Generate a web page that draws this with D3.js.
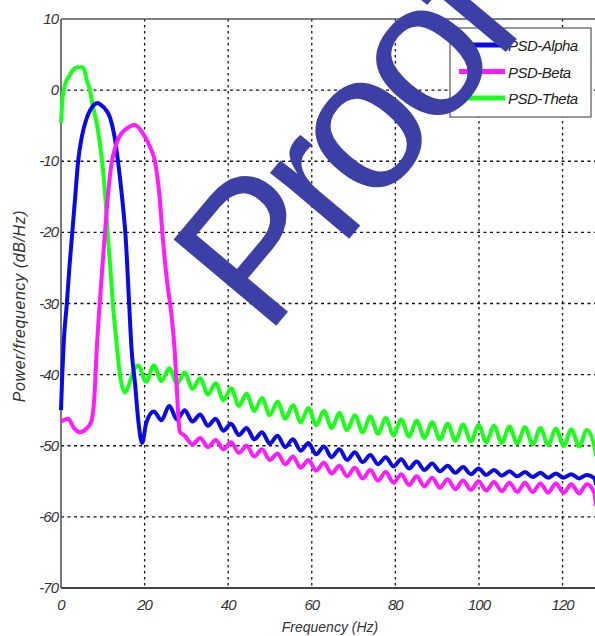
<!DOCTYPE html>
<html>
<head>
<meta charset="utf-8">
<script src="https://cdn.jsdelivr.net/npm/d3@7"></script>
<style>
  body { margin: 0; background: #fff; }
  text { font-family: "Liberation Sans", Arial, sans-serif; }
</style>
</head>
<body>
<script>
// axis ticks
var xTicks = [0, 20, 40, 60, 80, 100, 120];
var yTicks = [10, 0, -10, -20, -30, -40, -50, -60, -70];
var seriesNames = ["PSD-Alpha", "PSD-Beta", "PSD-Theta"];

// [frequency Hz, power dB/Hz]
var alphaPSD = [
  [0, -45], [0.3, -40], [0.7, -35], [1.4, -30], [2.0, -25], [2.7, -20], [3.4, -15], [4.1, -10],
  [5, -6.5], [6, -4.2], [7, -2.8], [8, -2.0], [8.8, -1.8], [9.6, -2.1], [10.5, -2.6], [11.7, -3.8],
  [12.8, -6.5], [13.7, -10.3], [14.6, -15], [15.5, -21], [16.3, -30], [16.9, -36.6], [17.7, -41.2],
  [18.5, -46.5], [19.4, -49.6], [20.4, -46.8],
  [22.2, -45.2], [24.05, -46.4], [25.9, -44.4], [27.75, -46.3], [29.6, -45.0], [31.45, -46.6],
  [33.3, -45.6], [35.15, -47.2], [37.0, -46.2], [38.85, -47.9], [40.7, -46.9], [42.55, -48.5],
  [44.4, -47.5], [46.25, -49.1], [48.1, -48.1], [49.95, -49.7], [51.8, -48.6], [53.65, -50.2],
  [55.5, -49.1], [57.35, -50.7], [59.2, -49.6], [61.05, -51.2], [62.9, -50.1], [64.75, -51.6],
  [66.6, -50.5], [68.45, -52.0], [70.3, -50.9], [72.15, -52.3], [74.0, -51.3], [75.85, -52.6],
  [77.7, -51.6], [79.55, -52.9], [81.4, -51.9], [83.25, -53.2], [85.1, -52.2], [86.95, -53.4],
  [88.8, -52.5], [90.65, -53.6], [92.5, -52.8], [94.35, -53.8], [96.2, -53.0], [98.05, -54.0],
  [99.9, -53.2], [101.75, -54.1], [103.6, -53.4], [105.45, -54.2], [107.3, -53.6], [109.15, -54.3],
  [111.0, -53.7], [112.85, -54.4], [114.7, -53.8], [116.55, -54.5], [118.4, -53.9], [120.25, -54.5],
  [122.1, -54.0], [123.95, -54.6], [125.8, -54.1], [127.65, -54.6], [128, -55.5]
];

var betaPSD = [
  [0, -46.6], [1.7, -46.2], [3.2, -47.6], [4.5, -48.1], [6.1, -47.6], [7.3, -46.5], [8.0, -43],
  [8.5, -37], [9.5, -28], [10.4, -21], [11.2, -15], [12.1, -10.3], [13, -8], [14, -6.5],
  [15.5, -5.5], [17.7, -4.9], [19.5, -6], [21.3, -8.0], [22.5, -10.1], [23.5, -14.5], [24.4, -21.1],
  [25.4, -27], [26.3, -31], [27.2, -36.6], [27.8, -43], [28.4, -48], [29.6, -48.6],
  [31.45, -49.8], [33.3, -48.9], [35.15, -50.2], [37.0, -49.2], [38.85, -50.5], [40.7, -49.5],
  [42.55, -51.0], [44.4, -50.0], [46.25, -51.5], [48.1, -50.5], [49.95, -52.0], [51.8, -51.1],
  [53.65, -52.6], [55.5, -51.5], [57.35, -53.1], [59.2, -52.0], [61.05, -53.5], [62.9, -52.4],
  [64.75, -53.9], [66.6, -52.8], [68.45, -54.3], [70.3, -53.1], [72.15, -54.6], [74.0, -53.4],
  [75.85, -54.9], [77.7, -53.7], [79.55, -55.2], [81.4, -54.0], [83.25, -55.5], [85.1, -54.3],
  [86.95, -55.7], [88.8, -54.5], [90.65, -55.9], [92.5, -54.7], [94.35, -56.1], [96.2, -54.9],
  [98.05, -56.2], [99.9, -55.0], [101.75, -56.3], [103.6, -55.1], [105.45, -56.4], [107.3, -55.2],
  [109.15, -56.5], [111.0, -55.2], [112.85, -56.5], [114.7, -55.3], [116.55, -56.6], [118.4, -55.3],
  [120.25, -56.6], [122.1, -55.4], [123.95, -56.7], [125.8, -55.4], [127.65, -56.7], [128, -58.5]
];

var thetaPSD = [
  [0, -4.6], [0.4, -1], [1, 0.8], [2, 2.0], [3, 2.9], [4, 3.2], [5, 3.2], [5.6, 2.8], [6.2, 1.3],
  [6.9, 0], [7.6, -2.2], [8.5, -4.5], [9.3, -7.5], [9.9, -10.5], [10.6, -15], [11.2, -20.5],
  [11.8, -25], [12.4, -30], [13.2, -35], [14.1, -40], [15.3, -42.5], [16.5, -41], [17.5, -39.3],
  [18.5, -38.7], [20.35, -41.0], [22.2, -38.7], [24.05, -40.9], [25.9, -39.1], [27.75, -41.3],
  [29.6, -39.7], [31.45, -42.0], [33.3, -40.5], [35.15, -42.8], [37.0, -41.2], [38.85, -43.6],
  [40.7, -41.9], [42.55, -44.4], [44.4, -42.7], [46.25, -45.1], [48.1, -43.3], [49.95, -45.7],
  [51.8, -43.8], [53.65, -46.2], [55.5, -44.3], [57.35, -46.7], [59.2, -44.7], [61.05, -47.1],
  [62.9, -45.1], [64.75, -47.5], [66.6, -45.4], [68.45, -47.8], [70.3, -45.7], [72.15, -48.1],
  [74.0, -45.9], [75.85, -48.3], [77.7, -46.1], [79.55, -48.5], [81.4, -46.3], [83.25, -48.7],
  [85.1, -46.5], [86.95, -48.9], [88.8, -46.7], [90.65, -49.1], [92.5, -46.9], [94.35, -49.3],
  [96.2, -47.0], [98.05, -49.4], [99.9, -47.1], [101.75, -49.5], [103.6, -47.2], [105.45, -49.6],
  [107.3, -47.3], [109.15, -49.7], [111.0, -47.4], [112.85, -49.8], [114.7, -47.5], [116.55, -49.9],
  [118.4, -47.6], [120.25, -50.0], [122.1, -47.7], [123.95, -50.1], [125.8, -47.8], [127.65, -50.2],
  [128, -51.5]
];

var colors = {"PSD-Alpha": "#0a0ae6", "PSD-Beta": "#ff1aff", "PSD-Theta": "#1aff1a"};

var W = 595, H = 636;
var svg = d3.select("body").append("svg")
    .attr("width", W)
    .attr("height", H);

var x = d3.scaleLinear().domain([0, 128]).range([61, 596]);
var y = d3.scaleLinear().domain([-70, 10]).range([588, 19]);

// grid
svg.append("g").selectAll("line.vg")
    .data(xTicks.filter(function(d) { return d > 0; }))
  .enter().append("line")
    .attr("x1", function(d) { return x(d); })
    .attr("x2", function(d) { return x(d); })
    .attr("y1", y(10)).attr("y2", y(-70))
    .style("stroke", "#111").style("stroke-width", 1.3)
    .style("stroke-dasharray", "2.5,3.5");

svg.append("g").selectAll("line.hg")
    .data(yTicks.filter(function(d) { return d > -70 && d < 10; }))
  .enter().append("line")
    .attr("x1", x(0)).attr("x2", x(128))
    .attr("y1", function(d) { return y(d); })
    .attr("y2", function(d) { return y(d); })
    .style("stroke", "#111").style("stroke-width", 1.3)
    .style("stroke-dasharray", "3,3.5");

// box
svg.append("line").attr("x1", x(0)).attr("x2", x(128)).attr("y1", y(10)).attr("y2", y(10))
    .style("stroke", "#555").style("stroke-width", 1.5);
svg.append("line").attr("x1", x(0)).attr("x2", x(128)).attr("y1", y(-70)).attr("y2", y(-70))
    .style("stroke", "#444").style("stroke-width", 2);
svg.append("line").attr("x1", x(0)).attr("x2", x(0)).attr("y1", y(10)).attr("y2", y(-70))
    .style("stroke", "#555").style("stroke-width", 1.6);

// tick labels
svg.append("g").selectAll("text")
    .data(xTicks)
  .enter().append("text")
    .attr("x", function(d) { return x(d); })
    .attr("y", 610)
    .attr("text-anchor", "middle")
    .style("font-size", "15px").style("font-style", "italic").style("fill", "#333")
    .style("letter-spacing", "-1px")
    .text(function(d) { return d; });

svg.append("g").selectAll("text")
    .data(yTicks)
  .enter().append("text")
    .attr("x", 58)
    .attr("y", function(d) { return y(d) + 5; })
    .attr("text-anchor", "end")
    .style("font-size", "15px").style("font-style", "italic").style("fill", "#333")
    .style("letter-spacing", "-1px")
    .text(function(d) { return d; });

svg.append("text")
    .attr("x", 330).attr("y", 632)
    .attr("text-anchor", "middle")
    .style("font-size", "14px").style("font-style", "italic").style("fill", "#333")
    .text("Frequency (Hz)");

svg.append("text")
    .attr("transform", "translate(25,306) rotate(-90)")
    .attr("text-anchor", "middle")
    .style("font-size", "16px").style("font-style", "italic").style("fill", "#333")
    .style("letter-spacing", "0.6px")
    .text("Power/frequency  (dB/Hz)");

// curves
var line = d3.line()
    .x(function(d) { return x(d[0]); })
    .y(function(d) { return y(d[1]); })
    .curve(d3.curveMonotoneX);

var drawOrder = [["PSD-Theta", thetaPSD], ["PSD-Alpha", alphaPSD], ["PSD-Beta", betaPSD]];
svg.append("g").selectAll("path")
    .data(drawOrder)
  .enter().append("path")
    .attr("d", function(d) { return line(d[1]); })
    .style("fill", "none")
    .style("stroke", function(d) { return colors[d[0]]; })
    .style("stroke-width", 4)
    .style("stroke-linejoin", "round");

// legend
var lg = svg.append("g").attr("transform", "translate(450,28)");
lg.append("rect").attr("width", 141).attr("height", 89)
    .style("fill", "#fff").style("stroke", "#555").style("stroke-width", 1.2);
var item = lg.selectAll("g.item")
    .data(seriesNames)
  .enter().append("g")
    .attr("transform", function(d, i) { return "translate(0," + (17 + i * 26.5) + ")"; });
item.append("line")
    .attr("x1", 9).attr("x2", 55)
    .style("stroke", function(d) { return colors[d]; })
    .style("stroke-width", 5);
item.append("text")
    .attr("x", 58).attr("y", 6)
    .style("font-size", "15px").style("font-style", "italic").style("fill", "#222")
    .style("letter-spacing", "-0.5px")
    .text(function(d) { return d; });

// watermark
svg.append("text")
    .attr("transform", "translate(266,338) rotate(-50)")
    .style("font-size", "195px")
    .style("letter-spacing", "-14px")
    .style("fill", "#3c3fa6")
    .text("Proof");
</script>
</body>
</html>
